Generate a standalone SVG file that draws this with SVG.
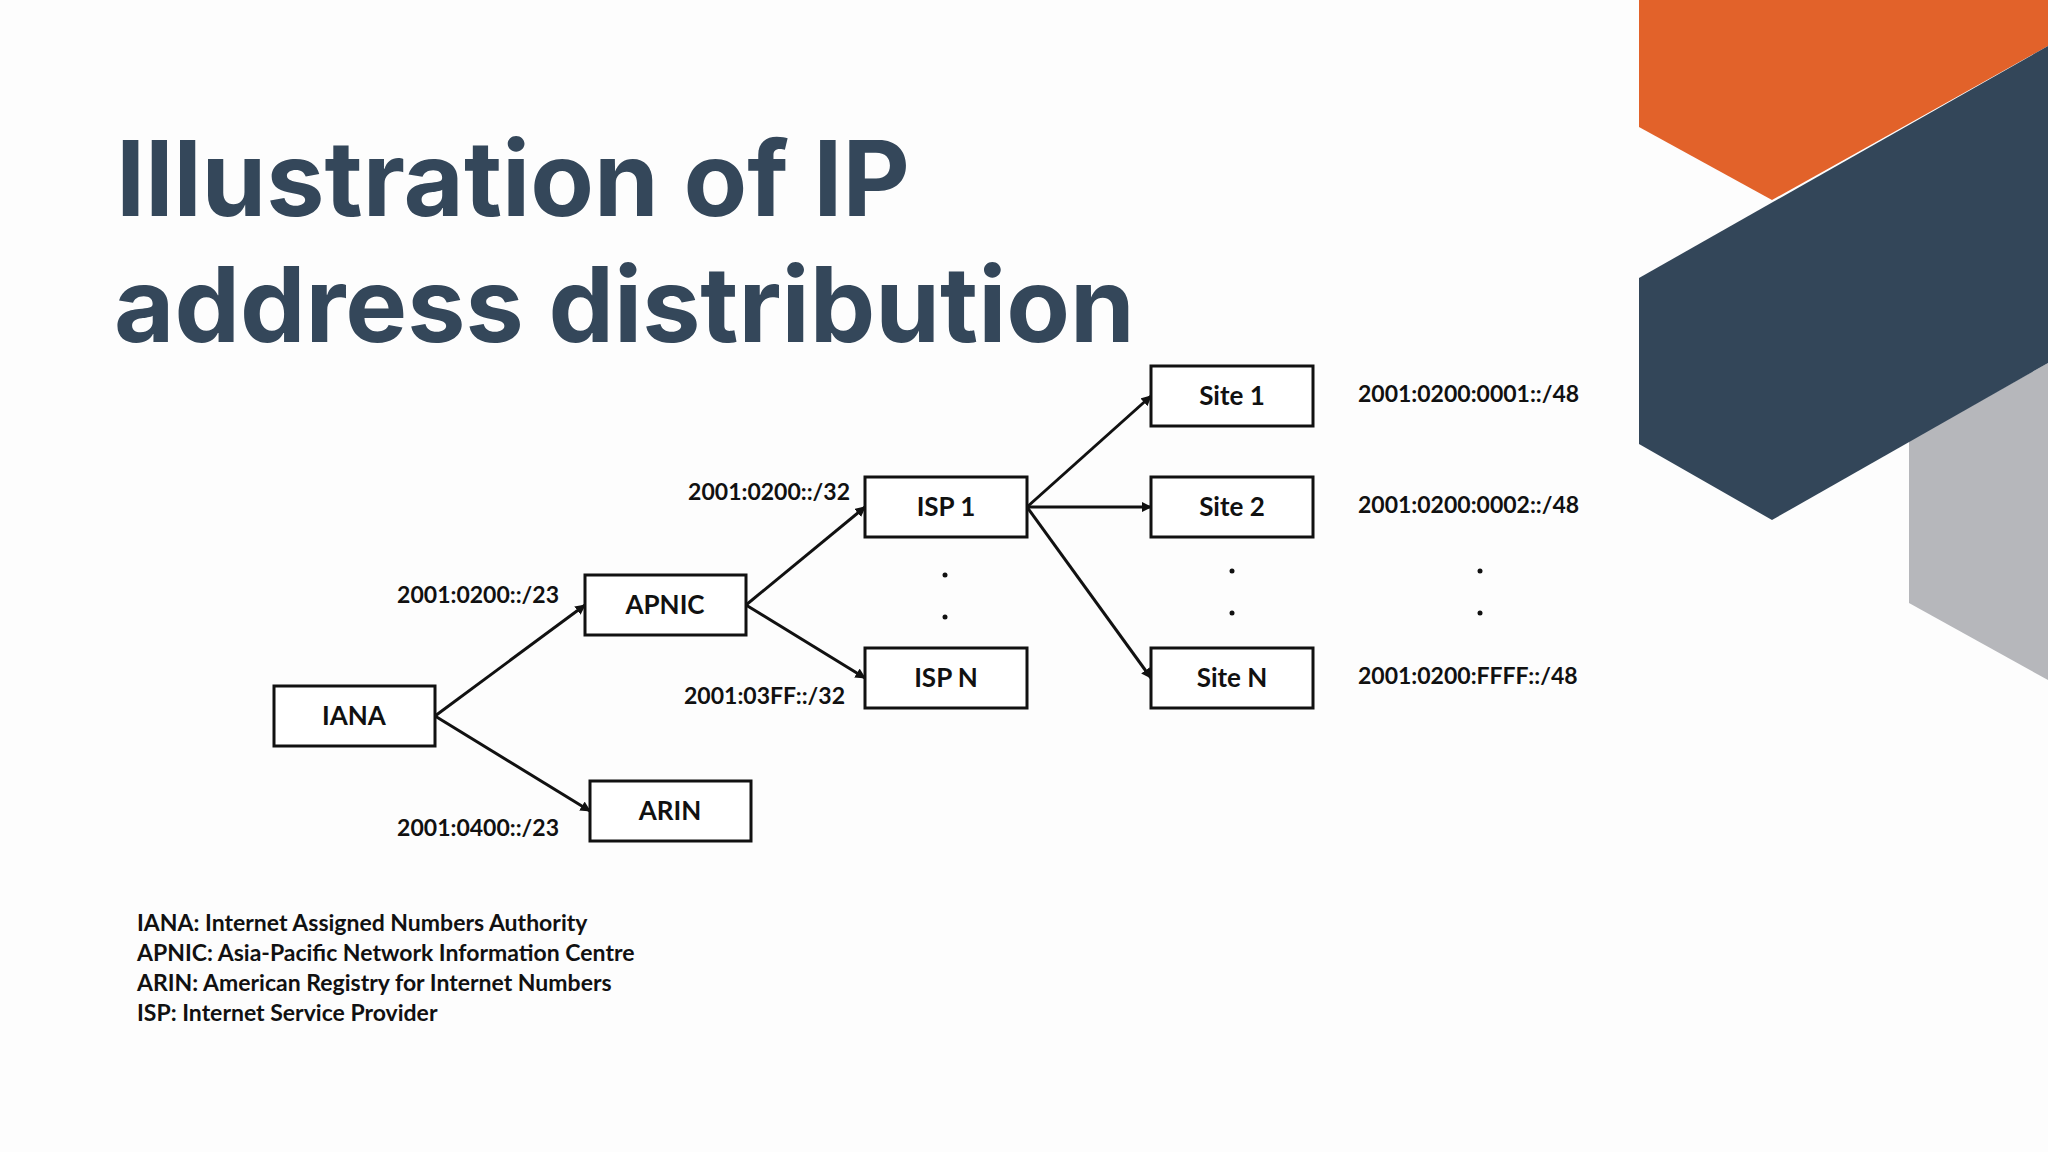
<svg xmlns="http://www.w3.org/2000/svg" width="2048" height="1152" viewBox="0 0 2048 1152">
<style>
.box{fill:#fff;stroke:#111;stroke-width:3}
.nt{font-family:Lato,"Liberation Sans",sans-serif;font-weight:bold;font-size:26px;fill:#111;text-anchor:middle}
.lb{font-family:Lato,"Liberation Sans",sans-serif;font-weight:bold;font-size:23px;fill:#111}
.lg{font-family:Lato,"Liberation Sans",sans-serif;font-weight:bold;font-size:23px;fill:#111}
.ttl{font-family:Inter,"Liberation Sans",sans-serif;font-weight:bold;font-size:104px;fill:#34475a}
.e{stroke:#111;stroke-width:3;fill:none;marker-end:url(#a)}
.d{fill:#111}
</style>
<defs><marker id="a" viewBox="0 0 10 10" refX="9" refY="5" markerWidth="3.5" markerHeight="3.5" orient="auto"><path d="M0,0L10,5L0,10z" fill="#111"/></marker></defs>
<rect width="2048" height="1152" fill="#fdfdfd"/>
<polygon points="1639,0 2048,0 2048,46 1772,200 1639,127" fill="#e2622a"/>
<polygon points="1909,441 2048,363 2048,680 1909,603" fill="#b6b7bb"/>
<polygon points="1639,278 2048,46 2048,363 1772,520 1639,444" fill="#334659"/>
<text class="ttl" x="116" y="216">Illustration of IP</text>
<text class="ttl" x="114" y="342">address distribution</text>
<g id="edges">
<line class="e" x1="435" y1="716" x2="585" y2="605"/>
<line class="e" x1="435" y1="716" x2="590" y2="811"/>
<line class="e" x1="746" y1="605" x2="865" y2="507"/>
<line class="e" x1="746" y1="605" x2="865" y2="678"/>
<line class="e" x1="1027" y1="507" x2="1151" y2="396"/>
<line class="e" x1="1027" y1="507" x2="1151" y2="507"/>
<line class="e" x1="1027" y1="507" x2="1151" y2="678"/>
</g>
<g id="iana"><rect class="box" x="274" y="686" width="161" height="60"/><text class="nt" x="354" y="725">IANA</text></g>
<g id="apnic"><rect class="box" x="585" y="575" width="161" height="60"/><text class="nt" x="665" y="614">APNIC</text></g>
<g id="arin"><rect class="box" x="590" y="781" width="161" height="60"/><text class="nt" x="670" y="820">ARIN</text></g>
<g id="isp1"><rect class="box" x="865" y="477" width="162" height="60"/><text class="nt" x="946" y="516">ISP 1</text></g>
<g id="ispn"><rect class="box" x="865" y="648" width="162" height="60"/><text class="nt" x="946" y="687">ISP N</text></g>
<g id="site1"><rect class="box" x="1151" y="366" width="162" height="60"/><text class="nt" x="1232" y="405">Site 1</text></g>
<g id="site2"><rect class="box" x="1151" y="477" width="162" height="60"/><text class="nt" x="1232" y="516">Site 2</text></g>
<g id="siten"><rect class="box" x="1151" y="648" width="162" height="60"/><text class="nt" x="1232" y="687">Site N</text></g>
<g id="labels">
<text class="lb" x="559" y="603" text-anchor="end">2001:0200::/23</text>
<text class="lb" x="559" y="836" text-anchor="end">2001:0400::/23</text>
<text class="lb" x="850" y="500" text-anchor="end">2001:0200::/32</text>
<text class="lb" x="845" y="704" text-anchor="end">2001:03FF::/32</text>
<text class="lb" x="1358" y="402">2001:0200:0001::/48</text>
<text class="lb" x="1358" y="513">2001:0200:0002::/48</text>
<text class="lb" x="1358" y="684">2001:0200:FFFF::/48</text>
</g>
<g id="dots">
<circle class="d" cx="945" cy="575" r="2.5"/><circle class="d" cx="945" cy="617" r="2.5"/>
<circle class="d" cx="1232" cy="571" r="2.5"/><circle class="d" cx="1232" cy="613" r="2.5"/>
<circle class="d" cx="1480" cy="571" r="2.5"/><circle class="d" cx="1480" cy="613" r="2.5"/>
</g>
<g id="legend">
<text class="lg" x="137" y="931">IANA: Internet Assigned Numbers Authority</text>
<text class="lg" x="137" y="961">APNIC: Asia-Pacific Network Information Centre</text>
<text class="lg" x="137" y="991">ARIN: American Registry for Internet Numbers</text>
<text class="lg" x="137" y="1021">ISP: Internet Service Provider</text>
</g>
</svg>
